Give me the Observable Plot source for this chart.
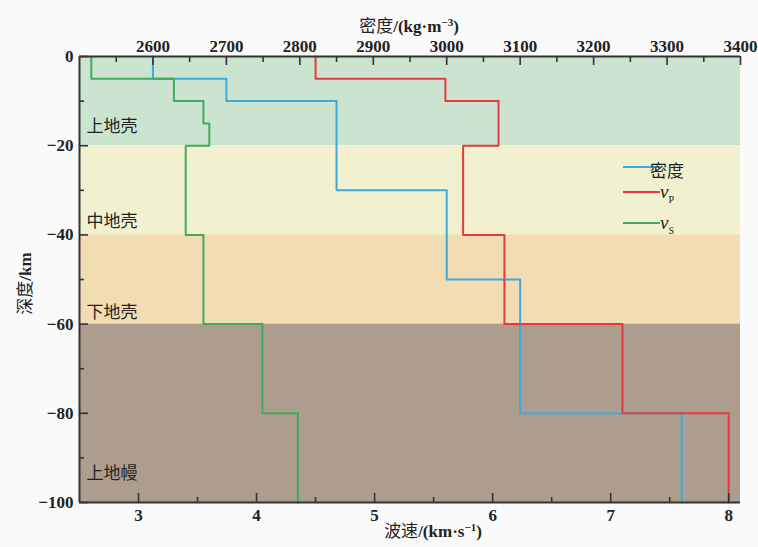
<!DOCTYPE html>
<html><head><meta charset="utf-8">
<script src="https://cdn.jsdelivr.net/npm/d3@7"></script>
<script src="https://cdn.jsdelivr.net/npm/@observablehq/plot@0.6"></script>
<style>
body{margin:0;background:#fafafa;}
#chart{position:relative;width:758px;height:547px;}
</style></head><body><div id="chart"></div>
<script>
// ---- data ----
const velDomain = [2.5, 8.1];
const densDomain = [2500, 3400];
const depthDomain = [-100, 0];

const layerNames = ["上地壳", "中地壳", "下地壳", "上地幔"];
const layerTop = [0, -20, -40, -60];
const layerBottom = [-20, -40, -60, -100];
const layerColors = ["#cbe4d0", "#f1f0cf", "#f1dcb3", "#ad9d8e"];
const layerLabelDepth = [-15.8, -37.1, -57.3, -93.5];

const densityDepths = [0, -5, -10, -30, -50, -80, -100];
const densityValues = [2600, 2700, 2850, 3000, 3100, 3320];
const vpDepths = [0, -5, -10, -20, -40, -60, -80, -100];
const vpValues = [4.5, 5.6, 6.05, 5.75, 6.1, 7.1, 8.0];
const vsDepths = [0, -5, -10, -15, -20, -40, -60, -80, -100];
const vsValues = [2.6, 3.3, 3.55, 3.6, 3.4, 3.55, 4.05, 4.35];

const velTicks = [3, 4, 5, 6, 7, 8];
const velMinorTicks = [3.5, 4.5, 5.5, 6.5, 7.5];
const densTicks = [2600, 2700, 2800, 2900, 3000, 3100, 3200, 3300, 3400];
const densMinorTicks = [2550, 2650, 2750, 2850, 2950, 3050, 3150, 3250, 3350];
const depthTicks = [0, -20, -40, -60, -80, -100];
const depthMinorTicks = [-10, -30, -50, -70, -90];

const seriesNames = ["密度", "vP", "vS"];
const seriesColors = ["#3fa9d9", "#e8393e", "#3fab5e"];

const topTitle = "密度/(kg·m−3)";
const bottomTitle = "波速/(km·s−1)";
const leftTitle = "深度/km";

// ---- layout ----
const W = 758, H = 547, mL = 79, mR = 18, mT = 56, mB = 45;
const frameW = W - mL - mR, frameH = H - mT - mB;

// ---- helpers ----
const k = (velDomain[1] - velDomain[0]) / (densDomain[1] - densDomain[0]);
const toV = d => velDomain[0] + (d - densDomain[0]) * k;

function steps(depths, values, f = v => v) {
  const pts = [];
  values.forEach((v, i) => {
    pts.push({x: f(v), y: depths[i]});
    pts.push({x: f(v), y: depths[i + 1]});
  });
  return pts;
}
const layers = layerNames.map((n, i) => ({name: n, top: layerTop[i], bottom: layerBottom[i], color: layerColors[i], ly: layerLabelDepth[i]}));

const axisColor = "#333";
const tk = {stroke: axisColor, strokeWidth: 1.6};
const latin = "'Liberation Serif','Noto Sans CJK SC',serif";
const cjk = "'Noto Sans CJK SC',sans-serif";
const lab = {fontWeight: "bold", fontSize: 17, fill: "#222", fontFamily: latin};
const fmtNum = d => (d < 0 ? "\u2212" : "") + Math.abs(d);

const svg = Plot.plot({
  width: W, height: H,
  marginLeft: mL, marginRight: mR, marginTop: mT, marginBottom: mB,
  x: {domain: velDomain, axis: null},
  y: {domain: depthDomain, axis: null},
  color: {type: "identity"},
  style: {fontFamily: latin, fontSize: "17px", background: "#fafafa", color: "#222", overflow: "visible"},
  marks: [
    Plot.rect(layers, {x1: () => velDomain[0], x2: () => velDomain[1], y1: "top", y2: "bottom", fill: "color"}),
    Plot.line(steps(densityDepths, densityValues, toV), {x: "x", y: "y", stroke: seriesColors[0], strokeWidth: 2}),
    Plot.line(steps(vpDepths, vpValues), {x: "x", y: "y", stroke: seriesColors[1], strokeWidth: 2}),
    Plot.line(steps(vsDepths, vsValues), {x: "x", y: "y", stroke: seriesColors[2], strokeWidth: 2}),
    // inward ticks (pixel lengths via insets)
    Plot.ruleX(velTicks, {x: d => d, insetTop: frameH - 9, ...tk}),
    Plot.ruleX(velMinorTicks, {x: d => d, insetTop: frameH - 5, ...tk}),
    Plot.ruleX(densTicks, {x: d => toV(d), insetBottom: frameH - 9, ...tk}),
    Plot.ruleX(densMinorTicks, {x: d => toV(d), insetBottom: frameH - 6, ...tk}),
    Plot.ruleY(depthTicks, {y: d => d, insetRight: frameW - 9, ...tk}),
    Plot.ruleY(depthMinorTicks, {y: d => d, insetRight: frameW - 5, ...tk}),
    // axis lines
    Plot.ruleX([velDomain[0]], {stroke: axisColor, strokeWidth: 2}),
    Plot.ruleY([depthDomain[1]], {stroke: axisColor, strokeWidth: 2}),
    Plot.ruleY([depthDomain[0]], {stroke: axisColor, strokeWidth: 2}),
    // tick labels
    Plot.text(velTicks, {x: d => d, frameAnchor: "bottom", dy: 6, lineAnchor: "top", text: d => String(d), ...lab}),
    Plot.text(densTicks, {x: d => toV(d), frameAnchor: "top", dy: -5, lineAnchor: "bottom", text: d => String(d), ...lab}),
    Plot.text(depthTicks, {y: d => d, frameAnchor: "left", dx: -6, textAnchor: "end", text: fmtNum, ...lab}),
    // layer labels
    Plot.text(layers, {y: "ly", text: "name", frameAnchor: "left", dx: 7, textAnchor: "start", fontFamily: cjk, fontSize: 17, fill: "#222"}),
    // titles
    Plot.text([topTitle], {text: d => d, frameAnchor: "top", dy: -37, dx: -1, textAnchor: "middle", fill: "#222"}),
    Plot.text([bottomTitle], {text: d => d, frameAnchor: "bottom", dy: 34, dx: 23, textAnchor: "middle", fill: "#222"}),
    Plot.text([leftTitle], {text: d => d, frameAnchor: "left", dx: -54, dy: 4, rotate: -90, textAnchor: "middle", fill: "#222"})
  ]
});

// rich titles (Chinese regular, Latin bold, superscripts)
const NS = "http://www.w3.org/2000/svg";
function rich(el, parts) {
  el.textContent = "";
  for (const p of parts) {
    const t = document.createElementNS(NS, "tspan");
    t.textContent = p.t;
    if (p.cjk) { t.setAttribute("font-family", cjk); }
    else { t.setAttribute("font-weight", "bold"); }
    if (p.sup) { t.setAttribute("font-size", "11"); t.setAttribute("dy", "-6"); }
    if (p.down) t.setAttribute("dy", "6");
    el.appendChild(t);
  }
}
svg.querySelectorAll("text").forEach(el => {
  const s = el.textContent;
  if (s === topTitle) rich(el, [{t: "密度", cjk: true}, {t: "/(kg·m"}, {t: "−3", sup: true}, {t: ")", down: true}]);
  else if (s === bottomTitle) rich(el, [{t: "波速", cjk: true}, {t: "/(km·s"}, {t: "−1", sup: true}, {t: ")", down: true}]);
  else if (s === leftTitle) rich(el, [{t: "深度", cjk: true}, {t: "/km"}]);
});

// legend
const lg = d3.select(svg).append("g").attr("class", "legend");
const legendY = [167, 192, 223];
seriesNames.forEach((n, i) => {
  const y = legendY[i];
  lg.append("line").attr("x1", 623).attr("x2", 660).attr("y1", y).attr("y2", y)
    .attr("stroke", seriesColors[i]).attr("stroke-width", 2);
  if (i === 0) {
    lg.append("text").attr("x", 667).attr("y", y + 2).attr("dominant-baseline", "central")
      .attr("font-family", cjk).attr("font-size", 17).attr("fill", "#222").text(n);
  } else {
    const t = lg.append("text").attr("x", 667).attr("y", y + 6).attr("fill", "#222").attr("font-family", latin);
    t.append("tspan").attr("font-style", "italic").attr("font-size", 19).text(n[0]);
    t.append("tspan").attr("font-size", 10).attr("dy", 5).text(n[1]);
  }
});

document.getElementById("chart").appendChild(svg);
</script></body></html>
